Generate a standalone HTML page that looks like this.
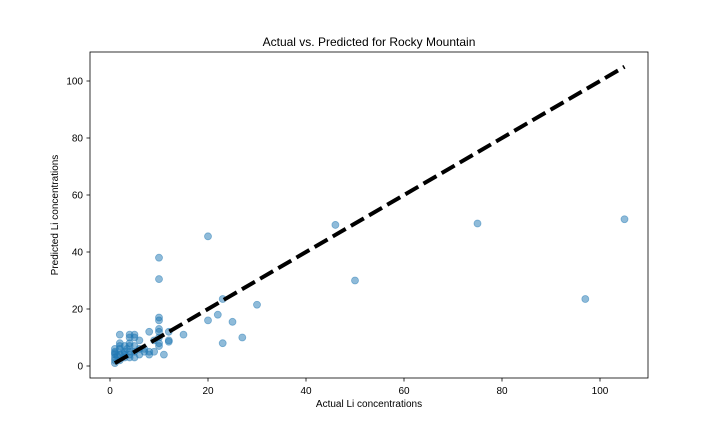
<!DOCTYPE html>
<html><head><meta charset="utf-8"><style>body{margin:0;background:#fff}svg{font-family:"Liberation Sans",sans-serif}</style></head>
<body>
<svg id="c" width="720" height="432"></svg>
<script>
const actual=[20,10,10,46,50,75,97,105,30,23,22,25,20,27,23,15,12,12,12,11,10,10,10,10,10,10,10,9,9,8,8,8,7,6,6,5,5,5,5,4,4,4,4,4,4,3,3,3,2,2,2,2,2,1,1,1,1,1,1,1.5,2.5,3.5,1,2,3,6,7,5,4];
const predicted=[45.5,38,30.5,49.5,30,50,23.5,51.5,21.5,23.5,18,15.5,16,10,8,11,12,8.5,9,4,17,16,13,12,10,8,7,5,9,12,4,5,6,4,9,11,10,5,3,11,10,8,7,5,3,7,5,3,11,8,6,4,2,6,5,4,3,2,1,3.5,4.5,6,4.5,7,4,6,5,7,4];
const xTicks=[0,20,40,60,80,100];
const yTicks=[0,20,40,60,80,100];
const ns="http://www.w3.org/2000/svg",s=document.getElementById('c');
const X=v=>110+4.9*v, Y=v=>366-2.85*v;
function el(t,a,txt){const e=document.createElementNS(ns,t);for(const k in a)e.setAttribute(k,a[k]);if(txt!==undefined)e.textContent=txt;s.appendChild(e);return e;}
let e=el('rect',{x:90,y:52,width:558,height:326,fill:'none',stroke:'#000','stroke-width':0.8});

xTicks.forEach(t=>{let l=el('line',{x1:X(t),x2:X(t),y1:378,y2:381.5,stroke:'#000','stroke-width':0.8});

let tx=el('text',{x:X(t),y:394,'font-size':10,'text-anchor':'middle'},t);
});
yTicks.forEach(t=>{let l=el('line',{x1:86.5,x2:90,y1:Y(t),y2:Y(t),stroke:'#000','stroke-width':0.8});

let tx=el('text',{x:83,y:Y(t)+3.5,'font-size':10,'text-anchor':'end'},t);
});
actual.forEach((a,i)=>{let c=el('circle',{cx:X(a),cy:Y(predicted[i]),r:3.5,fill:'#1f77b4','fill-opacity':0.5,stroke:'#1f77b4','stroke-opacity':0.5,'stroke-width':0.8});
});
const mn=Math.min(...actual),mx=Math.max(...actual);
e=el('line',{x1:X(mn),y1:Y(mn),x2:X(mx),y2:Y(mx),stroke:'#000','stroke-width':4,'stroke-dasharray':'15,6'});

e=el('text',{x:369,y:46,'font-size':12,'text-anchor':'middle'},'Actual vs. Predicted for Rocky Mountain');

e=el('text',{x:369,y:407,'font-size':10,'text-anchor':'middle'},'Actual Li concentrations');

e=el('text',{x:58,y:215,'font-size':10,'text-anchor':'middle',transform:'rotate(-90 58 215)'},'Predicted Li concentrations');

</script>
</body></html>
